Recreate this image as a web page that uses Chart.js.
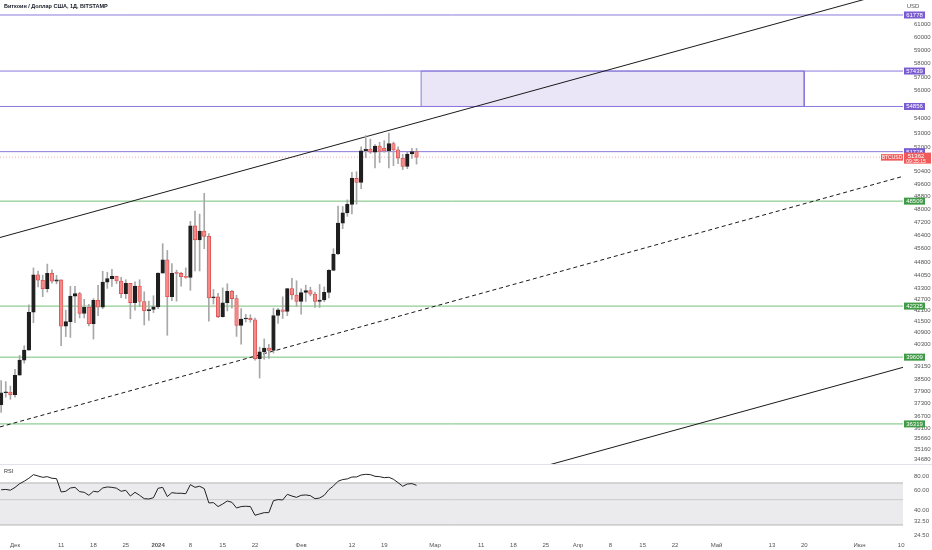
<!DOCTYPE html>
<html>
<head>
<meta charset="utf-8">
<script src="https://cdn.jsdelivr.net/npm/chart.js@4.4.1/dist/chart.umd.min.js"></script>
<style>
  html, body { margin: 0; padding: 0; background: #fff; }
  #pricebox { position: absolute; left: 0; top: 0; width: 932px; height: 464px; }
  #rsibox { position: absolute; left: 0; top: 464px; width: 932px; height: 86px; }
</style>
</head>
<body>
<div id="pricebox"><canvas id="price"></canvas></div>
<div id="rsibox"><canvas id="rsi"></canvas></div>
<script>
const family = "'Liberation Sans', Arial, sans-serif";
const startDate = '2023-11-28';
const dayOf = d => Math.round((Date.parse(d) - Date.parse(startDate)) / 864e5);

// daily candles, 28 Nov 2023 .. 26 Feb 2024
const opens = [37240,37820,37850,37720,38690,39460,39970,41990,44080,43770,
  43290,44170,43720,43790,41240,41480,42880,43020,41930,42260,
  41370,42650,42270,43660,43860,43990,43730,43010,43590,42520,
  43440,42580,42070,42140,42280,44180,44950,42850,44170,44160,
  43970,43930,46970,46130,46660,46340,42780,42840,41750,42510,
  43150,42740,41280,41620,41660,41580,39530,39880,40080,39960,
  41810,42120,42030,43300,42940,42580,43080,43190,42990,42580,
  42660,43090,44340,45290,47140,47770,48300,49960,49700,51790,
  51910,51700,52100,51950,51780,52270,51850,51300,50740,51570,
  51730];
const highs = [38420,38370,38150,38990,39700,40200,42400,44480,44300,44060,
  44700,44370,44050,43800,42100,43430,43420,43090,42700,42420,
  42740,43480,44280,44230,44400,44000,43940,43800,43600,43680,
  43800,43120,42600,42900,44200,45900,45500,44730,44350,44230,
  44480,47250,47890,47700,49000,46500,43250,43040,43340,43570,
  43200,42930,42190,41870,41850,41670,40130,40560,40280,42210,
  42200,42840,43310,43880,43740,43290,43490,43380,43110,43530,
  43390,44380,45600,48200,48170,48590,50350,50400,52050,52820,
  52580,52200,52360,52470,52990,52380,52050,51540,51690,51960,
  51950];
const lows = [36860,37600,37500,37600,38690,39300,39970,41420,43400,42850,
  43100,43600,43570,40200,40680,40640,41420,41680,41680,41250,
  40550,41800,42180,43310,43420,43580,42790,42750,41640,42100,
  42300,41300,41550,41970,42180,44180,40750,42630,42600,43440,
  43880,43200,44300,44300,45600,41500,42440,41700,41720,42060,
  42210,40690,40280,41460,41450,39450,38550,39500,39540,39820,
  41390,41650,41800,42700,42310,41880,42580,42890,42250,42250,
  42570,42780,44340,45250,46800,47560,47710,48320,49300,51320,
  51610,50650,51000,51690,50640,50800,50930,50530,50590,51270,
  50900];
const closes = [37820,37850,37720,38690,39460,39970,41990,44080,43770,43290,
  44170,43720,43790,41240,41480,42880,43020,41930,42260,41370,
  42650,42270,43660,43860,43990,43730,43010,43590,42520,43440,
  42580,42070,42140,42280,44180,44950,42850,44170,44160,43970,
  43930,46970,46130,46660,46340,42780,42840,41740,42510,43150,
  42740,41280,41620,41660,41580,39530,39880,40080,39960,41810,
  42120,42030,43300,42940,42580,43080,43190,42990,42580,42660,
  43090,44340,45290,47140,47770,48300,49960,49700,51790,51910,
  51700,52100,51750,51780,52270,51850,51300,50740,51570,51730,
  51362];
const rsiValues = [61,61.5,60.5,64,69,72.5,77,82.8,80.6,78.5,
  79.5,77,76.4,58.4,59.2,63.3,64.1,58.8,58,54.6,
  59.2,58.4,63.3,64.6,64.1,63,59.2,60.4,53.8,58,
  54.6,51,50.7,52,62.9,64.1,53.2,57.6,56.9,56.9,
  56.4,67.7,64.1,65.5,62.5,46.8,47.1,43.5,45.8,48.7,
  47.4,42.3,43.5,43.8,43.5,36.5,37.5,38.5,38.5,49,
  50.1,49.7,55.7,53.8,52.4,54.6,55,54.2,51,51.7,
  54.6,61.2,65.9,72.5,75,76,79,79,82.3,83.4,
  82.8,80.1,79.5,77.9,78.5,75.4,70.5,65.5,68.6,69.1,
  66.8];

const purpleLevels = [61778, 57439, 54856, 51728];
const greenLevels = [48509, 42325, 39609, 36319];
const priceTicks = [61000,60000,59000,58000,57000,56000,54000,53000,52000,50400,
  49600,48800,48000,47200,46400,45600,44800,44050,43300,42700,42100,41500,40900,
  40300,39150,38500,37900,37300,36700,36100,35660,35160,34680];
const rsiTicks = [80, 60, 40, 32.5, 24.5];
const rsiBand = [70, 50, 30];
const xTickDates = ['2023-12-01','2023-12-11','2023-12-18','2023-12-25','2024-01-01','2024-01-08',
  '2024-01-15','2024-01-22','2024-02-01','2024-02-12','2024-02-19','2024-03-01','2024-03-11',
  '2024-03-18','2024-03-25','2024-04-01','2024-04-08','2024-04-15','2024-04-22','2024-05-01',
  '2024-05-13','2024-05-20','2024-06-01','2024-06-10'];
const xTickLabels = ['Дек','11','18','25','2024','8','15','22','Фев','12','19','Мар','11',
  '18','25','Апр','8','15','22','Май','13','20','Июн','10'];

// drawings: [day offset, price]
const channelTop = [[-0.25, 46270], [195.4, 63920]];
const channelMid = [[-0.25, 36177], [195.4, 50096]];
const channelLow = [[117.8, 34385], [195.4, 39089]];
const zoneDates = ['2024-02-27', '2024-05-20'];
const zonePrices = [54856, 57439];

const xMin = -0.25, xMax = 195.4;
const yMin = 34476, yMax = 62993;
const rsiMin = 23.08, rsiMax = 100.6;

const upColor = '#1f1f1f';
const downFill = '#f28a8a';
const downBorder = '#e04b4b';
const wickColor = '#a8a8a8';
const purple = '#8a78dc';
const green = '#74c078';

const idx = closes.map((_, i) => i);
const pts = arr => arr.map(([x, y]) => ({x, y}));
const hline = (v, color, extra) => Object.assign({
  type: 'line', data: [{x: xMin, y: v}, {x: xMax, y: v}],
  borderColor: color, borderWidth: 1, pointRadius: 0, order: 4
}, extra || {});

const z0 = dayOf(zoneDates[0]), z1 = dayOf(zoneDates[1]);
const last = closes[closes.length - 1];

const priceOverlay = {
  id: 'priceOverlay',
  afterDraw(chart) {
    const {ctx, chartArea} = chart;
    const y = chart.scales.y;
    ctx.save();
    ctx.textBaseline = 'middle';
    ctx.textAlign = 'left';
    ctx.fillStyle = '#131722';
    ctx.font = `600 5.5px ${family}`;
    ctx.fillText('Биткоин / Доллар США, 1Д, BITSTAMP', 4, 6.5);
    ctx.textAlign = 'center';
    ctx.fillStyle = '#555';
    ctx.font = `6px ${family}`;
    ctx.fillText('USD', 913, 6.5);

    const tag = (v, fill) => {
      const py = y.getPixelForValue(v);
      ctx.fillStyle = fill;
      ctx.fillRect(chartArea.right + 1, py - 3.5, 21, 7);
      ctx.fillStyle = '#fff';
      ctx.font = `6px ${family}`;
      ctx.fillText(String(v), chartArea.right + 11.5, py + 0.3);
    };
    purpleLevels.forEach(v => tag(v, '#7a5cd0'));
    greenLevels.forEach(v => tag(v, '#3f9b46'));

    const py = y.getPixelForValue(last);
    ctx.fillStyle = '#f05a5a';
    ctx.fillRect(chartArea.right - 22, py - 3, 22, 6.5);
    ctx.fillRect(chartArea.right + 1, py - 4.5, 27, 11);
    ctx.fillStyle = '#fff';
    ctx.font = `5px ${family}`;
    ctx.fillText('BTCUSD', chartArea.right - 11, py + 0.3);
    ctx.font = `6px ${family}`;
    ctx.fillText(String(last), chartArea.right + 13, py - 0.5);
    ctx.font = `5px ${family}`;
    ctx.fillText('09:35:15', chartArea.right + 13, py + 4.3);
    ctx.restore();
  }
};

new Chart(document.getElementById('price'), {
  type: 'bar',
  data: {
    datasets: [
      {
        data: idx.map(i => ({x: i, y: [lows[i], highs[i]]})),
        backgroundColor: wickColor, barThickness: 1, grouped: false, order: 1
      },
      {
        data: idx.map(i => ({x: i, y: [opens[i], closes[i]]})),
        backgroundColor: idx.map(i => closes[i] >= opens[i] ? upColor : downFill),
        borderColor: idx.map(i => closes[i] >= opens[i] ? upColor : downBorder),
        borderWidth: 0.8, borderSkipped: false, barThickness: 3.6, minBarLength: 1,
        grouped: false, order: 0
      },
      {
        type: 'line', data: [{x: z0, y: zonePrices[1]}, {x: z1, y: zonePrices[1]}],
        borderWidth: 0, pointRadius: 0, fill: {value: zonePrices[0]},
        backgroundColor: 'rgba(150,125,215,0.2)', order: 6
      },
      {
        type: 'line',
        data: [{x: z0, y: zonePrices[0]}, {x: z0, y: zonePrices[1]}, {x: z1, y: zonePrices[1]},
               {x: z1, y: zonePrices[0]}, {x: z0, y: zonePrices[0]}],
        borderColor: purple, borderWidth: 1, pointRadius: 0, order: 5
      },
      ...purpleLevels.map(v => hline(v, purple)),
      ...greenLevels.map(v => hline(v, green)),
      hline(last, 'rgba(240,90,90,0.5)', {borderDash: [1, 2]}),
      {type: 'line', data: pts(channelTop), borderColor: '#1a1a1a', borderWidth: 1, pointRadius: 0, order: 2},
      {type: 'line', data: pts(channelMid), borderColor: '#1a1a1a', borderWidth: 1, borderDash: [4, 3], pointRadius: 0, order: 2},
      {type: 'line', data: pts(channelLow), borderColor: '#1a1a1a', borderWidth: 1, pointRadius: 0, order: 2}
    ]
  },
  options: {
    responsive: true, maintainAspectRatio: false, animation: false, events: [],
    layout: {padding: 0},
    plugins: {legend: {display: false}, tooltip: {enabled: false}},
    scales: {
      x: {type: 'linear', min: xMin, max: xMax, offset: false, display: false},
      y: {
        type: 'logarithmic', position: 'right', min: yMin, max: yMax,
        grid: {display: false}, border: {display: false},
        afterBuildTicks: s => { s.ticks = priceTicks.map(v => ({value: v})); },
        afterFit: s => { s.width = 29; s.paddingTop = 0; s.paddingBottom = 0; },
        ticks: {autoSkip: false, padding: 3, color: '#555', font: {size: 6, family}, callback: v => String(v)}
      }
    }
  },
  plugins: [priceOverlay]
});

const rsiOverlay = {
  id: 'rsiOverlay',
  afterDraw(chart) {
    const {ctx, width} = chart;
    ctx.save();
    ctx.strokeStyle = '#e0e3eb';
    ctx.lineWidth = 1;
    ctx.beginPath(); ctx.moveTo(0, 0.5); ctx.lineTo(width, 0.5); ctx.stroke();
    ctx.fillStyle = '#333';
    ctx.font = `5.5px ${family}`;
    ctx.textBaseline = 'middle';
    ctx.fillText('RSI', 4, 7);
    ctx.restore();
  }
};

new Chart(document.getElementById('rsi'), {
  type: 'line',
  data: {
    datasets: [
      {data: [{x: xMin, y: rsiBand[0]}, {x: xMax, y: rsiBand[0]}], borderColor: '#b4b4b4', borderWidth: 1,
       pointRadius: 0, fill: {value: rsiBand[2]}, backgroundColor: '#ebebed', order: 3},
      {data: [{x: xMin, y: rsiBand[1]}, {x: xMax, y: rsiBand[1]}], borderColor: '#cacaca', borderWidth: 1, pointRadius: 0, order: 2},
      {data: [{x: xMin, y: rsiBand[2]}, {x: xMax, y: rsiBand[2]}], borderColor: '#b4b4b4', borderWidth: 1, pointRadius: 0, order: 2},
      {data: rsiValues.map((v, i) => ({x: i, y: v})), borderColor: '#222', borderWidth: 1, pointRadius: 0, tension: 0, order: 0}
    ]
  },
  options: {
    responsive: true, maintainAspectRatio: false, animation: false, events: [],
    layout: {padding: {top: 1}},
    plugins: {legend: {display: false}, tooltip: {enabled: false}},
    scales: {
      x: {
        type: 'linear', min: xMin, max: xMax, offset: false,
        grid: {display: false, drawTicks: false}, border: {display: false},
        afterBuildTicks: s => { s.ticks = xTickDates.map(d => ({value: dayOf(d)})); },
        afterFit: s => { s.height = 12; s.paddingLeft = 0; s.paddingRight = 0; },
        ticks: {
          autoSkip: false, maxRotation: 0, padding: 4, color: '#555',
          font: c => ({size: 6, family, weight: c.tick && c.tick.label === '2024' ? 'bold' : 'normal'}),
          callback: v => { const k = xTickDates.findIndex(d => dayOf(d) === v); return k >= 0 ? xTickLabels[k] : ''; }
        }
      },
      y: {
        type: 'logarithmic', position: 'right', min: rsiMin, max: rsiMax,
        grid: {display: false}, border: {display: false},
        afterBuildTicks: s => { s.ticks = rsiTicks.map(v => ({value: v})); },
        afterFit: s => { s.width = 29; s.paddingTop = 0; s.paddingBottom = 0; },
        ticks: {autoSkip: false, padding: 3, color: '#555', font: {size: 6, family}, callback: v => Number(v).toFixed(2)}
      }
    }
  },
  plugins: [rsiOverlay]
});
</script>
</body>
</html>
